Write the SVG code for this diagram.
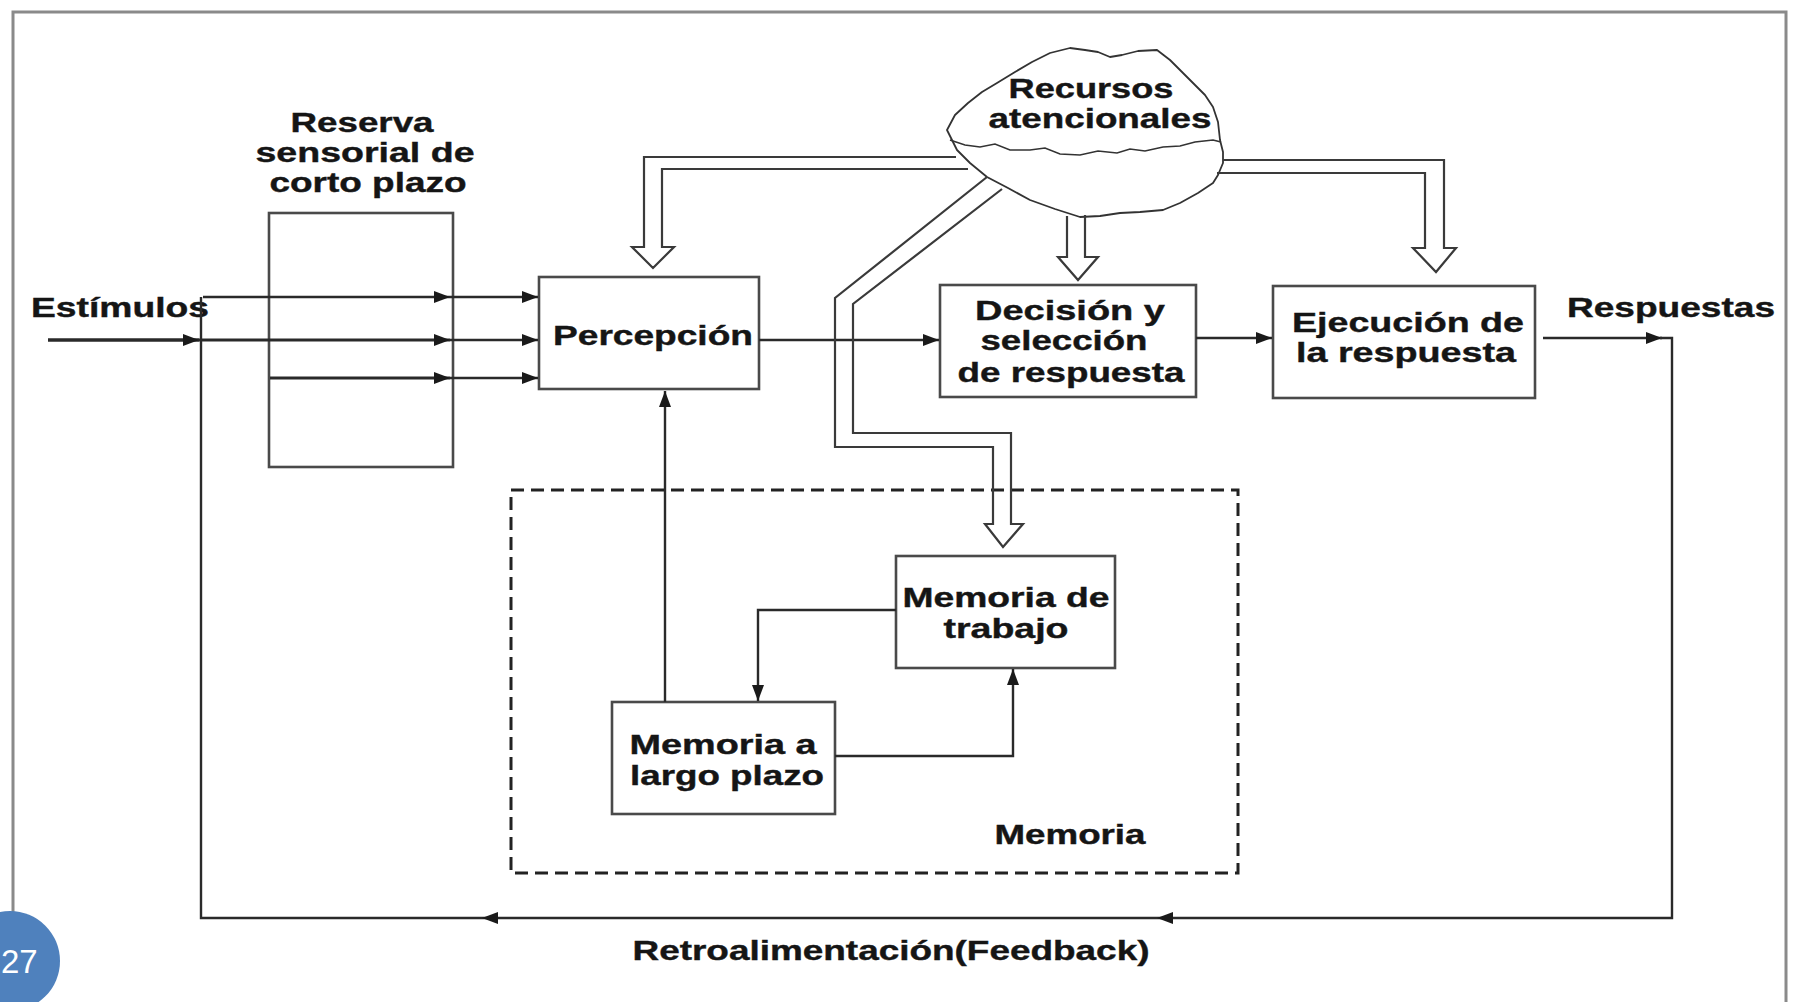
<svg xmlns="http://www.w3.org/2000/svg" width="1795" height="1002" viewBox="0 0 1795 1002">
<defs>
<marker id="ah" viewBox="0 0 16 12" refX="16" refY="6" markerWidth="16" markerHeight="12" markerUnits="userSpaceOnUse" orient="auto"><path d="M0,0 L16,6 L0,12 z" fill="#1a1a1a"/></marker>
<style>
.t{font-family:"Liberation Sans",Arial,sans-serif;font-weight:bold;font-size:28px;fill:#151515;text-anchor:middle;stroke:#151515;stroke-width:0.4}
.box{fill:none;stroke:#4a4a4a;stroke-width:2.6}
.ln{fill:none;stroke:#2a2a2a;stroke-width:2.4}
.hol{fill:none;stroke:#3a3a3a;stroke-width:2.2;stroke-linejoin:miter}
</style>
</defs>
<rect width="1795" height="1002" fill="#ffffff"/>
<rect x="13" y="12" width="1773" height="1010" fill="none" stroke="#8a8a8a" stroke-width="3"/>

<g id="reserva">
<rect class="box" x="269" y="213" width="184" height="254"/>
<text class="t" x="362" y="132" textLength="143" lengthAdjust="spacingAndGlyphs">Reserva</text>
<text class="t" x="365" y="162" textLength="219" lengthAdjust="spacingAndGlyphs">sensorial de</text>
<text class="t" x="368" y="192" textLength="197" lengthAdjust="spacingAndGlyphs">corto plazo</text>
</g>
<g id="estimulos"><text class="t" x="120" y="317" textLength="178" lengthAdjust="spacingAndGlyphs">Estímulos</text></g>
<g id="percepcion">
<rect class="box" x="539" y="277" width="220" height="112"/>
<text class="t" x="653" y="345" textLength="200" lengthAdjust="spacingAndGlyphs">Percepción</text>
</g>
<g id="decision">
<rect class="box" x="940" y="285" width="256" height="112"/>
<text class="t" x="1070" y="320" textLength="190" lengthAdjust="spacingAndGlyphs">Decisión y</text>
<text class="t" x="1064" y="350" textLength="167" lengthAdjust="spacingAndGlyphs">selección</text>
<text class="t" x="1071" y="382" textLength="227" lengthAdjust="spacingAndGlyphs">de respuesta</text>
</g>
<g id="ejecucion">
<rect class="box" x="1273" y="286" width="262" height="112"/>
<text class="t" x="1408" y="332" textLength="232" lengthAdjust="spacingAndGlyphs">Ejecución de</text>
<text class="t" x="1406" y="362" textLength="220" lengthAdjust="spacingAndGlyphs">la respuesta</text>
</g>
<g id="respuestas"><text class="t" x="1671" y="317" textLength="208" lengthAdjust="spacingAndGlyphs">Respuestas</text></g>
<g id="recursos">
<path fill="none" stroke="#333" stroke-width="1.8" stroke-linejoin="round" d="M947,130 L955,115 L968,103 L982,92 L997,83 L1015,72 L1032,62 L1050,53 L1070,48 L1085,50 L1098,52 L1110,57 L1122,55 L1138,51 L1157,50 L1170,60 L1183,73 L1195,85 L1205,95 L1213,107 L1218,122 L1220,140 L1223,152 L1223,163 L1218,175 L1213,183 L1198,193 L1180,203 L1163,210 L1140,212 L1120,213 L1100,216 L1080,217 L1055,209 L1030,200 L1008,188 L987,177 L970,163 L957,150 Z"/>
<path fill="none" stroke="#333" stroke-width="1.6" d="M950,140 L965,145 L980,147 L995,144 L1010,150 L1030,150 L1045,148 L1060,154 L1080,155 L1098,151 L1117,153 L1130,149 L1145,151 L1163,147 L1180,146 L1195,142 L1213,140 L1221,142"/>
<text class="t" x="1091" y="98" textLength="165" lengthAdjust="spacingAndGlyphs">Recursos</text>
<text class="t" x="1100" y="128" textLength="223" lengthAdjust="spacingAndGlyphs">atencionales</text>
</g>
<g id="memoria">
<rect x="511" y="490" width="727" height="383" fill="none" stroke="#222" stroke-width="3" stroke-dasharray="13 7"/>
<text class="t" x="1070" y="844" textLength="151" lengthAdjust="spacingAndGlyphs">Memoria</text>
</g>
<g id="memoria-trabajo">
<rect class="box" x="896" y="556" width="219" height="112"/>
<text class="t" x="1006" y="607" textLength="207" lengthAdjust="spacingAndGlyphs">Memoria de</text>
<text class="t" x="1006" y="638" textLength="125" lengthAdjust="spacingAndGlyphs">trabajo</text>
</g>
<g id="memoria-largo">
<rect class="box" x="612" y="702" width="223" height="112"/>
<text class="t" x="723" y="754" textLength="187" lengthAdjust="spacingAndGlyphs">Memoria a</text>
<text class="t" x="727" y="785" textLength="194" lengthAdjust="spacingAndGlyphs">largo plazo</text>
</g>
<g id="feedback-label"><text class="t" x="891" y="960" textLength="517" lengthAdjust="spacingAndGlyphs">Retroalimentación(Feedback)</text></g>

<g id="connectors">
<path class="ln" d="M203,297 H450" marker-end="url(#ah)"/>
<path class="ln" d="M450,297 H538" marker-end="url(#ah)"/>
<path class="ln" style="stroke-width:3.6" d="M48,340 H199" marker-end="url(#ah)"/>
<path class="ln" style="stroke-width:3.2" d="M199,340 H450" marker-end="url(#ah)"/>
<path class="ln" d="M450,340 H538" marker-end="url(#ah)"/>
<path class="ln" style="stroke-width:2.8" d="M270,378 H450" marker-end="url(#ah)"/>
<path class="ln" d="M450,378 H538" marker-end="url(#ah)"/>
<path class="ln" d="M759,340 H939" marker-end="url(#ah)"/>
<path class="ln" d="M1196,338 H1272" marker-end="url(#ah)"/>
<path class="ln" d="M1543,338 H1662" marker-end="url(#ah)"/>
<path class="ln" d="M1660,338 H1672 V918 H1157" marker-end="url(#ah)"/>
<path class="ln" d="M1157,918 H482" marker-end="url(#ah)"/>
<path class="ln" d="M482,918 H201 V297"/>
<path class="ln" d="M665,702 V391" marker-end="url(#ah)"/>
<path class="ln" d="M896,610 H758 V701" marker-end="url(#ah)"/>
<path class="ln" d="M835,756 H1013 V669" marker-end="url(#ah)"/>
<path class="hol" d="M956,157 H644 V247 H632 L653,268 L674,247 H662 V169 H968"/>
<path class="hol" d="M1067,216 V257 H1058 L1078,280 L1098,257 H1085 V215"/>
<path class="hol" d="M1223,160 H1444 V248 H1456 L1436,272 L1413,248 H1425 V173 H1217"/>
<path class="hol" d="M987,177 L835,298 V447 H993 V524 H985 L1003,547 L1023,524 H1011 V433 H853 V304 L1002,189"/>
</g>
<g id="page-number">
<circle cx="10" cy="961" r="50" fill="#4f81bd"/>
<text x="1" y="973" font-family="Liberation Sans, Arial, sans-serif" font-size="33" fill="#ffffff">27</text>
</g>
</svg>
